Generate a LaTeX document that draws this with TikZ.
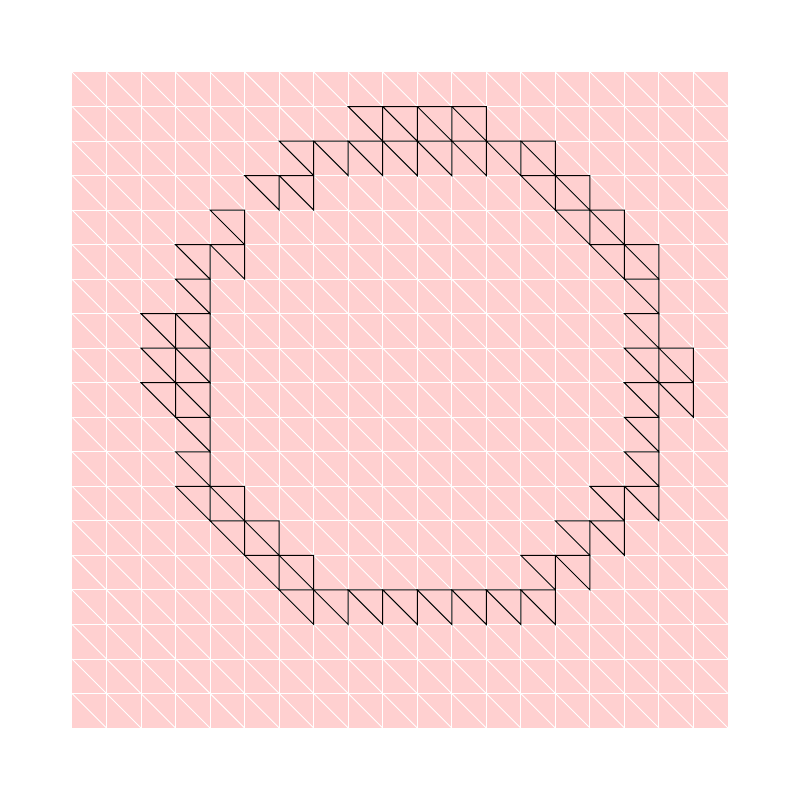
\documentclass[tikz,border=0pt]{standalone}
\definecolor{bgpink}{RGB}{255,208,208}
\begin{document}
\begin{tikzpicture}[x=0.5pt,y=-0.5pt,
  gridline/.style={white,line width=0.45pt},
  ringtri/.style={black,line width=0.5pt,line join=miter}]
\useasboundingbox (0,0) rectangle (800,800);
\begin{scope}[shift={(72,72)},scale=34.5263]
  \fill[bgpink] (0,0) rectangle (19,19);
  \foreach \i in {1,...,18} {
    \draw[gridline] (\i,0) -- (\i,19);
    \draw[gridline] (0,\i) -- (19,\i);
  }
  \foreach \c in {0,...,18} {
    \foreach \r in {0,...,18} {
      \draw[gridline] (\c,\r) -- ++(1,1);
    }
  }
  \foreach \r/\c in {
    1/8,1/9,1/10,1/11,
    2/6,2/7,2/8,2/9,2/10,2/11,2/12,2/13,
    3/5,3/6,3/13,3/14,
    4/4,4/14,4/15,
    5/3,5/4,5/15,5/16,
    6/3,6/16,
    7/2,7/3,7/16,
    8/2,8/3,8/16,8/17,
    9/2,9/3,9/16,9/17,
    10/3,10/16,
    11/3,11/16,
    12/3,12/4,12/15,12/16,
    13/4,13/5,13/14,13/15,
    14/5,14/6,14/13,14/14,
    15/6,15/7,15/8,15/9,15/10,15/11,15/12,15/13} {
    \draw[ringtri] (\c,\r) -- ++(1,0) -- ++(0,1) -- cycle;
  }
\end{scope}
\end{tikzpicture}
\end{document}
